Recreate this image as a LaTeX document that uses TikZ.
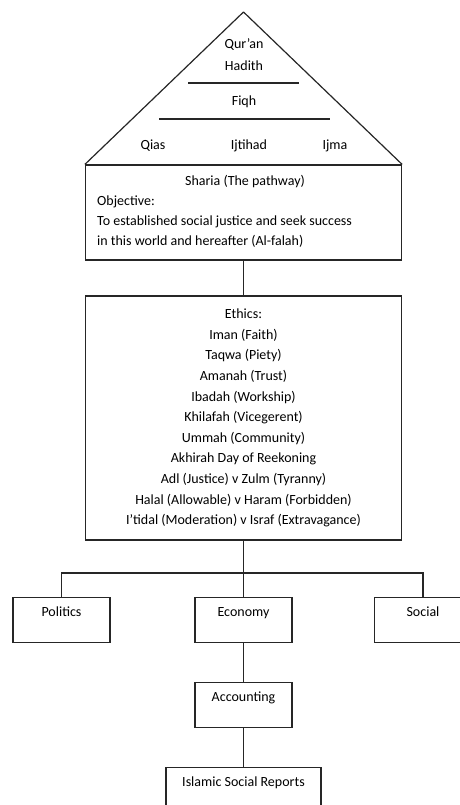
\documentclass[tikz,border=0pt]{standalone}
\usepackage{fontspec}
\setmainfont{Carlito}
\usetikzlibrary{positioning}

\begin{document}
\begin{tikzpicture}[x=1pt,y=-1pt,font=\fontsize{14}{20.6}\selectfont,
  line/.style={draw=black!85,line width=1.2pt},
  box/.style={line,rectangle,inner sep=3pt},
  cell/.style={box,minimum width=97pt,text height=16.3pt,text depth=22.7pt,anchor=north},
  txt/.style={inner sep=0pt,text height=10pt,text depth=3pt}]

\useasboundingbox (0,0) rectangle (459,805);

% --- Roof: sources of the Sharia ---
\node[box,minimum width=316pt,minimum height=95pt] (sharia) at (243.5,212.5) {};
\coordinate (apex) at (243.5,12);
\draw[line,line join=round] (sharia.north west) -- (apex) -- (sharia.north east);
\node[txt] (quran) at (244,45) {Qur’an};
\node[txt] (hadith) at (244,67) {Hadith};
\draw[line] (188,83) -- (299,83);
\node[txt] (fiqh) at (244,102) {Fiqh};
\draw[line] (159,119) -- (330,119);
\foreach \x/\t/\n in {153/Qias/qias,249/Ijtihad/ijtihad,335/Ijma/ijma}
  \node[txt] (\n) at (\x,146) {\t};

% --- Sharia box ---
\node[txt] (pathway) at (245,182) {Sharia (The pathway)};
\node[anchor=north west,align=left,inner sep=0pt,font=\fontsize{14}{20}\selectfont] (objective) at (97,196)
  {Objective:\\To established social justice and seek success\\in this world and hereafter (Al-falah)};

% --- Ethics box ---
\node[box,minimum width=316pt,minimum height=244pt,align=center] (ethics) at (243.5,418)
  {Ethics:\\Iman (Faith)\\Taqwa (Piety)\\Amanah (Trust)\\Ibadah (Workship)\\
   Khilafah (Vicegerent)\\Ummah (Community)\\Akhirah Day of Reekoning\\
   Adl (Justice) v Zulm (Tyranny)\\Halal (Allowable) v Haram (Forbidden)\\
   I’tidal (Moderation) v Israf (Extravagance)};

% --- Branches ---
\foreach \x/\t/\n in {61.5/Politics/politics,243.5/Economy/economy,423/Social/social}
  \node[cell] (\n) at (\x,597) {\t};
\node[cell] (accounting) at (243.5,682) {Accounting};
\node[cell,minimum width=155pt] (reports) at (243.5,767) {Islamic Social Reports};

% connectors
\coordinate (fork) at (243.5,573);
\draw[line] (sharia) -- (ethics);
\draw[line] (ethics) -- (economy);
\draw[line] (politics.north) |- (fork) -| (social.north);
\draw[line] (economy) -- (accounting);
\draw[line] (accounting) -- (reports);

\end{tikzpicture}
\end{document}
